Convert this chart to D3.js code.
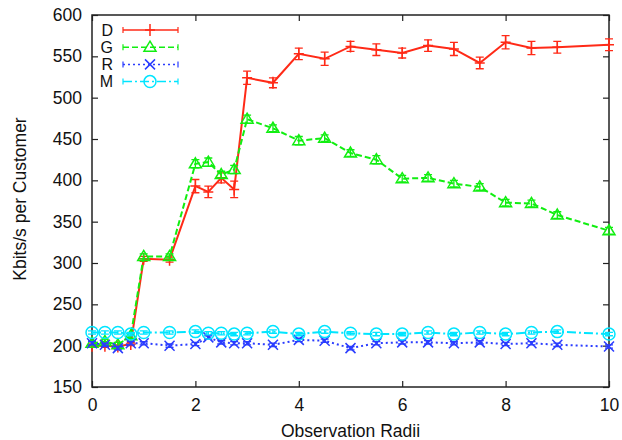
<!DOCTYPE html>
<html>
<head>
<meta charset="utf-8">
<script src="https://cdn.jsdelivr.net/npm/d3@7"></script>
<style>
  body { margin: 0; background: #fff; }
  text { font-family: "Liberation Sans", Arial, Helvetica, sans-serif; fill: #111; }
</style>
</head>
<body>
<script>
// data
const radii = [0, 0.25, 0.5, 0.75, 1, 1.5, 2, 2.25, 2.5, 2.75, 3, 3.5, 4, 4.5, 5, 5.5, 6, 6.5, 7, 7.5, 8, 8.5, 9, 10];
const dVals = [200, 200, 199, 202, 305, 304, 393, 386, 403, 389, 524, 518, 553, 547, 562, 558, 554, 563, 559, 542, 567, 560, 561, 564];
const dErr  = [2, 2, 2, 2, 3, 3, 8, 7, 6, 10, 8, 6, 7, 8, 6, 7, 6, 7, 8, 7, 8, 8, 7, 7];
const gVals = [203, 205, 201, 212, 308, 308, 420, 422, 407, 413, 474, 463, 448, 451, 433, 425, 402, 403, 396, 392, 373, 372, 358, 339];
const gErr  = [3, 3, 3, 3, 3, 3, 5, 5, 4, 5, 5, 4, 5, 4, 4, 5, 4, 4, 4, 4, 4, 4, 4, 4];
const rVals = [203, 201, 197, 203, 203, 200, 202, 210, 204, 203, 203, 201, 207, 206, 197, 203, 204, 204, 203, 204, 202, 203, 201, 199];
const rErr  = [2, 2, 2, 2, 2, 2, 2, 2, 2, 2, 2, 2, 2, 2, 2, 2, 2, 2, 2, 2, 2, 2, 2, 2];
const mVals = [216, 216, 216, 214, 216, 216, 217, 215, 215, 214, 215, 217, 214, 217, 215, 214, 214, 216, 214, 216, 214, 216, 217, 214];
const mErr  = [2, 2, 2, 2, 2, 2, 2, 2, 2, 2, 2, 2, 2, 2, 2, 2, 2, 2, 2, 2, 2, 2, 2, 2];
const xTicks = [0, 2, 4, 6, 8, 10];
const yTicks = [150, 200, 250, 300, 350, 400, 450, 500, 550, 600];

const w = 622, h = 440;
const plotL = 92, plotR = 609, plotT = 15, plotB = 387;

const series = [
  { name: "D", vals: dVals, err: dErr, color: "#ff2a17", dash: null, marker: "plus" },
  { name: "G", vals: gVals, err: gErr, color: "#11ee11", dash: "6,3", marker: "tri" },
  { name: "R", vals: rVals, err: rErr, color: "#2a3cff", dash: "2,3", marker: "cross" },
  { name: "M", vals: mVals, err: mErr, color: "#00e5ff", dash: "9,3,2,3", marker: "circle" }
];

const xScale = d3.scaleLinear().domain([0, 10]).range([plotL, plotR]);
const yScale = d3.scaleLinear().domain([150, 600]).range([plotB, plotT]);

const svg = d3.select("body").append("svg")
  .attr("width", w)
  .attr("height", h);

// axes with inward ticks, mirrored on top/right
const tickLen = 6;
const fontSize = 17.5;

svg.append("g")
  .attr("transform", `translate(0, ${plotB})`)
  .call(d3.axisBottom(xScale).tickValues(xTicks).tickSize(-tickLen).tickPadding(10))
  .call(g => g.selectAll("text").attr("font-size", fontSize).attr("dy", "0.8em"));
svg.append("g")
  .attr("transform", `translate(0, ${plotT})`)
  .call(d3.axisTop(xScale).tickValues(xTicks).tickSize(-tickLen).tickFormat(""));
svg.append("g")
  .attr("transform", `translate(${plotL}, 0)`)
  .call(d3.axisLeft(yScale).tickValues(yTicks).tickSize(-tickLen).tickPadding(10))
  .call(g => g.selectAll("text").attr("font-size", fontSize));
svg.append("g")
  .attr("transform", `translate(${plotR}, 0)`)
  .call(d3.axisRight(yScale).tickValues(yTicks).tickSize(-tickLen).tickFormat(""));

svg.selectAll(".domain").remove();
svg.selectAll(".tick line").attr("stroke", "#222").attr("stroke-width", 1.2);

svg.append("rect")
  .attr("x", plotL).attr("y", plotT)
  .attr("width", plotR - plotL).attr("height", plotB - plotT)
  .attr("fill", "none").attr("stroke", "#222").attr("stroke-width", 1.5);

// axis titles
svg.append("text")
  .attr("x", (plotL + plotR) / 2)
  .attr("y", 437)
  .attr("text-anchor", "middle")
  .attr("font-size", fontSize)
  .text("Observation Radii");

svg.append("text")
  .attr("transform", `translate(26, ${(plotT + plotB) / 2 - 2}) rotate(-90)`)
  .attr("text-anchor", "middle")
  .attr("font-size", fontSize)
  .text("Kbits/s per Customer");

function drawMarker(g, type, x, y, color) {
  if (type === "plus") {
    g.append("path").attr("d", `M${x - 5},${y}H${x + 5}M${x},${y - 6}V${y + 6}`)
      .attr("stroke", color).attr("stroke-width", 1.5).attr("fill", "none");
  } else if (type === "tri") {
    g.append("path").attr("d", `M${x},${y - 6}L${x + 6},${y + 4}L${x - 6},${y + 4}Z`)
      .attr("stroke", color).attr("stroke-width", 1.5).attr("fill", "none");
  } else if (type === "cross") {
    g.append("path").attr("d", `M${x - 5},${y - 5}L${x + 5},${y + 5}M${x - 5},${y + 5}L${x + 5},${y - 5}`)
      .attr("stroke", color).attr("stroke-width", 1.5).attr("fill", "none");
  } else {
    g.append("circle").attr("cx", x).attr("cy", y).attr("r", 6)
      .attr("stroke", color).attr("stroke-width", 1.5).attr("fill", "none");
  }
}

const line = d3.line();

series.forEach(s => {
  const g = svg.append("g");
  const pts = radii.map((r, i) => [xScale(r), yScale(s.vals[i])]);

  // error bars
  radii.forEach((r, i) => {
    const x = xScale(r);
    const y1 = yScale(s.vals[i] - s.err[i]);
    const y2 = yScale(s.vals[i] + s.err[i]);
    g.append("path")
      .attr("d", `M${x},${y1}V${y2}M${x - 4},${y1}H${x + 4}M${x - 4},${y2}H${x + 4}`)
      .attr("stroke", s.color).attr("stroke-width", 1.3).attr("fill", "none");
  });

  g.append("path")
    .attr("d", line(pts))
    .attr("fill", "none")
    .attr("stroke", s.color)
    .attr("stroke-width", 2)
    .attr("stroke-dasharray", s.dash);

  pts.forEach(p => drawMarker(g, s.marker, p[0], p[1], s.color));
});

// legend
series.forEach((s, i) => {
  const y = 30 + i * 17.2;
  const g = svg.append("g");
  g.append("text")
    .attr("x", 113).attr("y", y)
    .attr("dy", "0.36em")
    .attr("text-anchor", "end")
    .attr("font-size", 16)
    .text(s.name);
  g.append("path")
    .attr("d", `M123,${y}H178`)
    .attr("stroke", s.color).attr("stroke-width", 1.5)
    .attr("stroke-dasharray", s.dash);
  g.append("path")
    .attr("d", `M123,${y - 3}V${y + 3}M178,${y - 3}V${y + 3}`)
    .attr("stroke", s.color).attr("stroke-width", 1.2);
  drawMarker(g, s.marker, 150, y, s.color);
});
</script>
</body>
</html>
